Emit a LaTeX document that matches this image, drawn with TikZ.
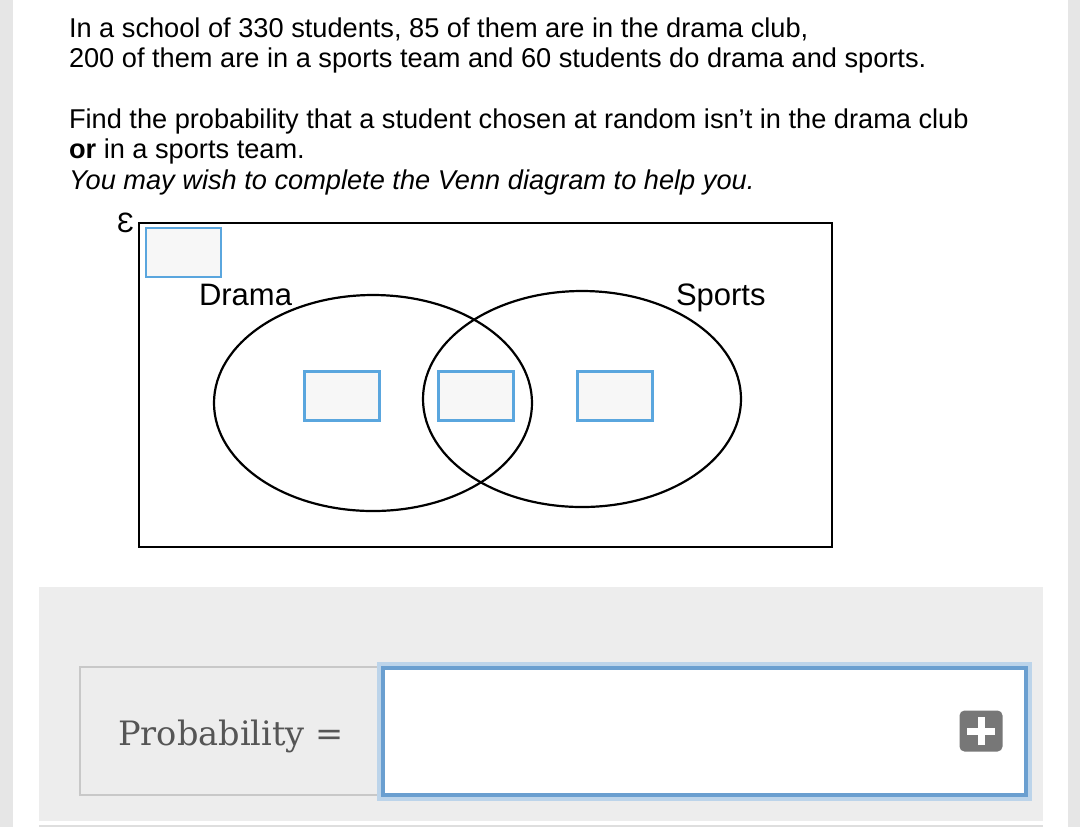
\documentclass[tikz,border=0pt]{standalone}
\usepackage{fontspec}
\setmainfont{Liberation Sans}
\newfontfamily\answerfont{DejaVu Serif}
\usetikzlibrary{positioning}
\usetikzlibrary{shapes.geometric}

\definecolor{boxblue}{HTML}{5AA6DE}
\definecolor{fieldblue}{HTML}{6A9FD0}
\definecolor{panelgray}{HTML}{EDEDED}
\definecolor{edgegray}{HTML}{C8C8C8}
\definecolor{stripgray}{HTML}{E6E6E6}
\definecolor{plusgray}{HTML}{777777}
\definecolor{labelgray}{HTML}{555555}

\begin{document}
\begin{tikzpicture}[x=0.5pt,y=-0.5pt,every node/.style={inner sep=0pt,outer sep=0pt},
question/.style={anchor=base west,font=\fontsize{13.6}{16}\selectfont},
setlabel/.style={anchor=base west,font=\fontsize{15.5}{18}\selectfont},
set/.style={draw,ellipse,line width=1.1pt,minimum width=159pt,minimum height=108pt},
entry/.style={draw=boxblue,line width=1.1pt,fill=black!3,minimum width=37.5pt,minimum height=24.5pt}]
% page
\useasboundingbox (0,0) rectangle (1080,827);
\fill[white] (0,0) rectangle (1080,827);
\fill[stripgray] (0,0) rectangle (13,827);
\fill[stripgray] (1068,0) rectangle (1080,827);

% question text
\node[question] (line1) at (69,37) {In a school of 330 students, 85 of them are in the drama club,};
\node[question] (line2) at (69,67) {200 of them are in a sports team and 60 students do drama and sports.};
\node[question] (line3) at (69,128) {Find the probability that a student chosen at random isn't in the drama club};
\node[question] (line4) at (69,158) {\textbf{or} in a sports team.};
\node[question] (line5) at (69,189) {\itshape You may wish to complete the Venn diagram to help you.};

% venn diagram
\node[draw,line width=1.1pt,anchor=north west,minimum width=346.5pt,minimum height=162pt] (universe) at (139,223) {};
\node[anchor=base east,font=\fontsize{14}{16}\selectfont] (eps) at (134,232) {Ɛ};
\node[entry,anchor=north west] (outside) at (146,228) {};
\node[set] (drama) at (373,403) {};
\node[set] (sports) at (582,399) {};
\node[setlabel] (dramalabel) at (199,305) {Drama};
\node[setlabel] (sportslabel) at (676,305) {Sports};
\node[entry] (dramaonly) at (342,396) {};
\node[entry] (both) at (476,396) {};
\node[entry] (sportsonly) at (615,396) {};

% answer panel
\fill[panelgray] (39,587) rectangle (1043,821);
\draw[edgegray!60,line width=1pt] (39,826) -- (1043,826);
\node[draw=edgegray,fill=panelgray,line width=1pt,anchor=north west,minimum width=149pt,minimum height=64pt] (problabel) at (80,667) {};
\node[anchor=base,font=\answerfont\fontsize{16.8}{20}\selectfont,text=labelgray] (probtext) at (231,745) {Probability =};
\node[draw=fieldblue!45,line width=3.5pt,fill=white,anchor=north west,minimum width=324pt,minimum height=66pt] (answer) at (380,665) {};
\node[draw=fieldblue,line width=2pt,minimum width=321.5pt,minimum height=63.5pt] (answerinner) at (answer.center) {};
\node[fill=plusgray,rounded corners=2.5pt,minimum width=21.5pt,minimum height=20.5pt] (plus) at (981,731) {};
\draw[white,line width=3.5pt] ([xshift=-7pt]plus.center) -- ([xshift=7pt]plus.center);
\draw[white,line width=3.5pt] ([yshift=-7pt]plus.center) -- ([yshift=7pt]plus.center);
\end{tikzpicture}
\end{document}
